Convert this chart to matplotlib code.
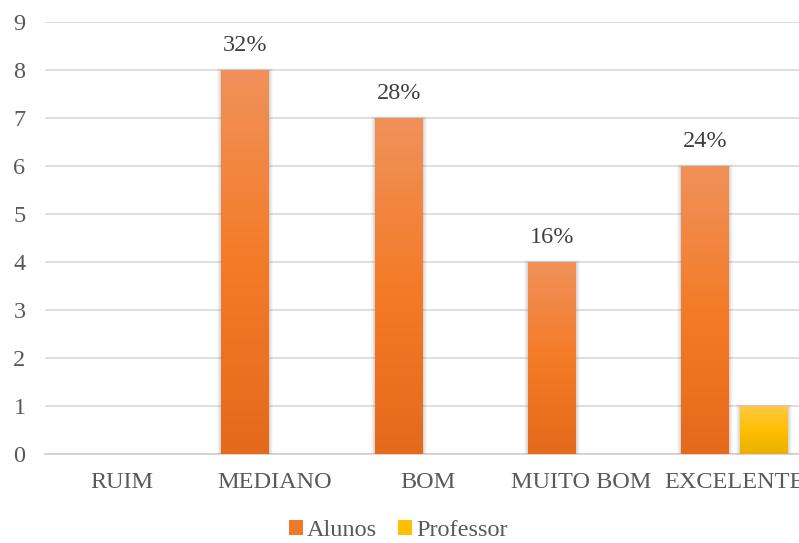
import numpy as np
import matplotlib.pyplot as plt
from matplotlib.colors import LinearSegmentedColormap
from matplotlib.patches import Rectangle

plt.rcParams['font.family'] = ['Liberation Serif', 'DejaVu Serif']

# avaliação do curso
categorias = ['RUIM', 'MEDIANO', 'BOM', 'MUITO BOM', 'EXCELENTE']
alunos = [0, 8, 7, 4, 6]
professor = [0, 0, 0, 0, 1]

grad_alunos = ['#E5691B', '#F47B28', '#F0915A']
grad_prof = ['#E9B000', '#FFC000', '#FFC845']

SLOT_PX = 153.3  # largura de cada categoria em pixels


def barras_gradiente(ax, xs, vals, largura, cores):
    cmap = LinearSegmentedColormap.from_list('g', cores)
    grad = np.linspace(0, 1, 256).reshape(-1, 1)
    px = 1 / SLOT_PX
    py = 1 / 48
    for x, v in zip(xs, vals):
        if v <= 0:
            continue
        # sombra suave em volta da barra
        for k, a in [(4, 0.06), (3, 0.08), (2, 0.11), (1, 0.14)]:
            ax.add_patch(Rectangle((x - largura / 2 - k * px, 0), largura + 2 * k * px,
                                   v + k * py * 0.5, facecolor='#8a8a8a',
                                   edgecolor='none', alpha=a, zorder=2))
        r = Rectangle((x - largura / 2, 0), largura, v, facecolor='none',
                      edgecolor='none', zorder=3)
        ax.add_patch(r)
        im = ax.imshow(grad, cmap=cmap, origin='lower', aspect='auto',
                       extent=(x - largura / 2, x + largura / 2, 0, v), zorder=3)
        im.set_clip_path(r)


fig = plt.figure(figsize=(7.99, 5.43), dpi=100)
ax = fig.add_axes([45 / 799, 89 / 543, 5 * SLOT_PX / 799, 432 / 543])

x = np.arange(len(categorias))
w = 48 / SLOT_PX
gap = 5.5 / SLOT_PX
xa = x - w / 2 - gap
xp = x + w / 2 + gap

barras_gradiente(ax, xa, alunos, w, grad_alunos)
barras_gradiente(ax, xp, professor, w, grad_prof)

total = sum(alunos)
for xi, v in zip(xa, alunos):
    if v > 0:
        ax.text(xi, v + 0.3, f'{v / total * 100:.0f}%', ha='center', va='bottom',
                fontsize=17.5, color='#404040')

ax.set_xlim(-0.5, len(categorias) - 0.5)
ax.set_ylim(0, 9)
ax.set_yticks(range(10))
ax.set_xticks(x)
ax.set_xticklabels(categorias)
ax.tick_params(axis='both', length=0, labelsize=17.5, colors='#595959')
ax.tick_params(axis='y', pad=14)
ax.tick_params(axis='x', pad=13)

ax.grid(axis='y', color='#D9D9D9', linewidth=1.2, zorder=0)
ax.set_axisbelow(True)
for s in ['top', 'right', 'left']:
    ax.spines[s].set_visible(False)
ax.spines['bottom'].set_color('#D0D0D0')
ax.spines['bottom'].set_linewidth(1.2)
ax.spines['bottom'].set_zorder(1)

handles = [Rectangle((0, 0), 1, 1, facecolor='#F07A2A'),
           Rectangle((0, 0), 1, 1, facecolor='#FFC000')]
fig.legend(handles, ['Alunos', 'Professor'], loc='center', bbox_to_anchor=(398 / 799, 12.5 / 543),
           ncol=2, frameon=False, fontsize=17.5, handlelength=0.6, handleheight=0.6,
           handletextpad=0.15, columnspacing=0.85, labelcolor='#595959',
           borderpad=0, borderaxespad=0)

fig.savefig('out.png', dpi=100)
